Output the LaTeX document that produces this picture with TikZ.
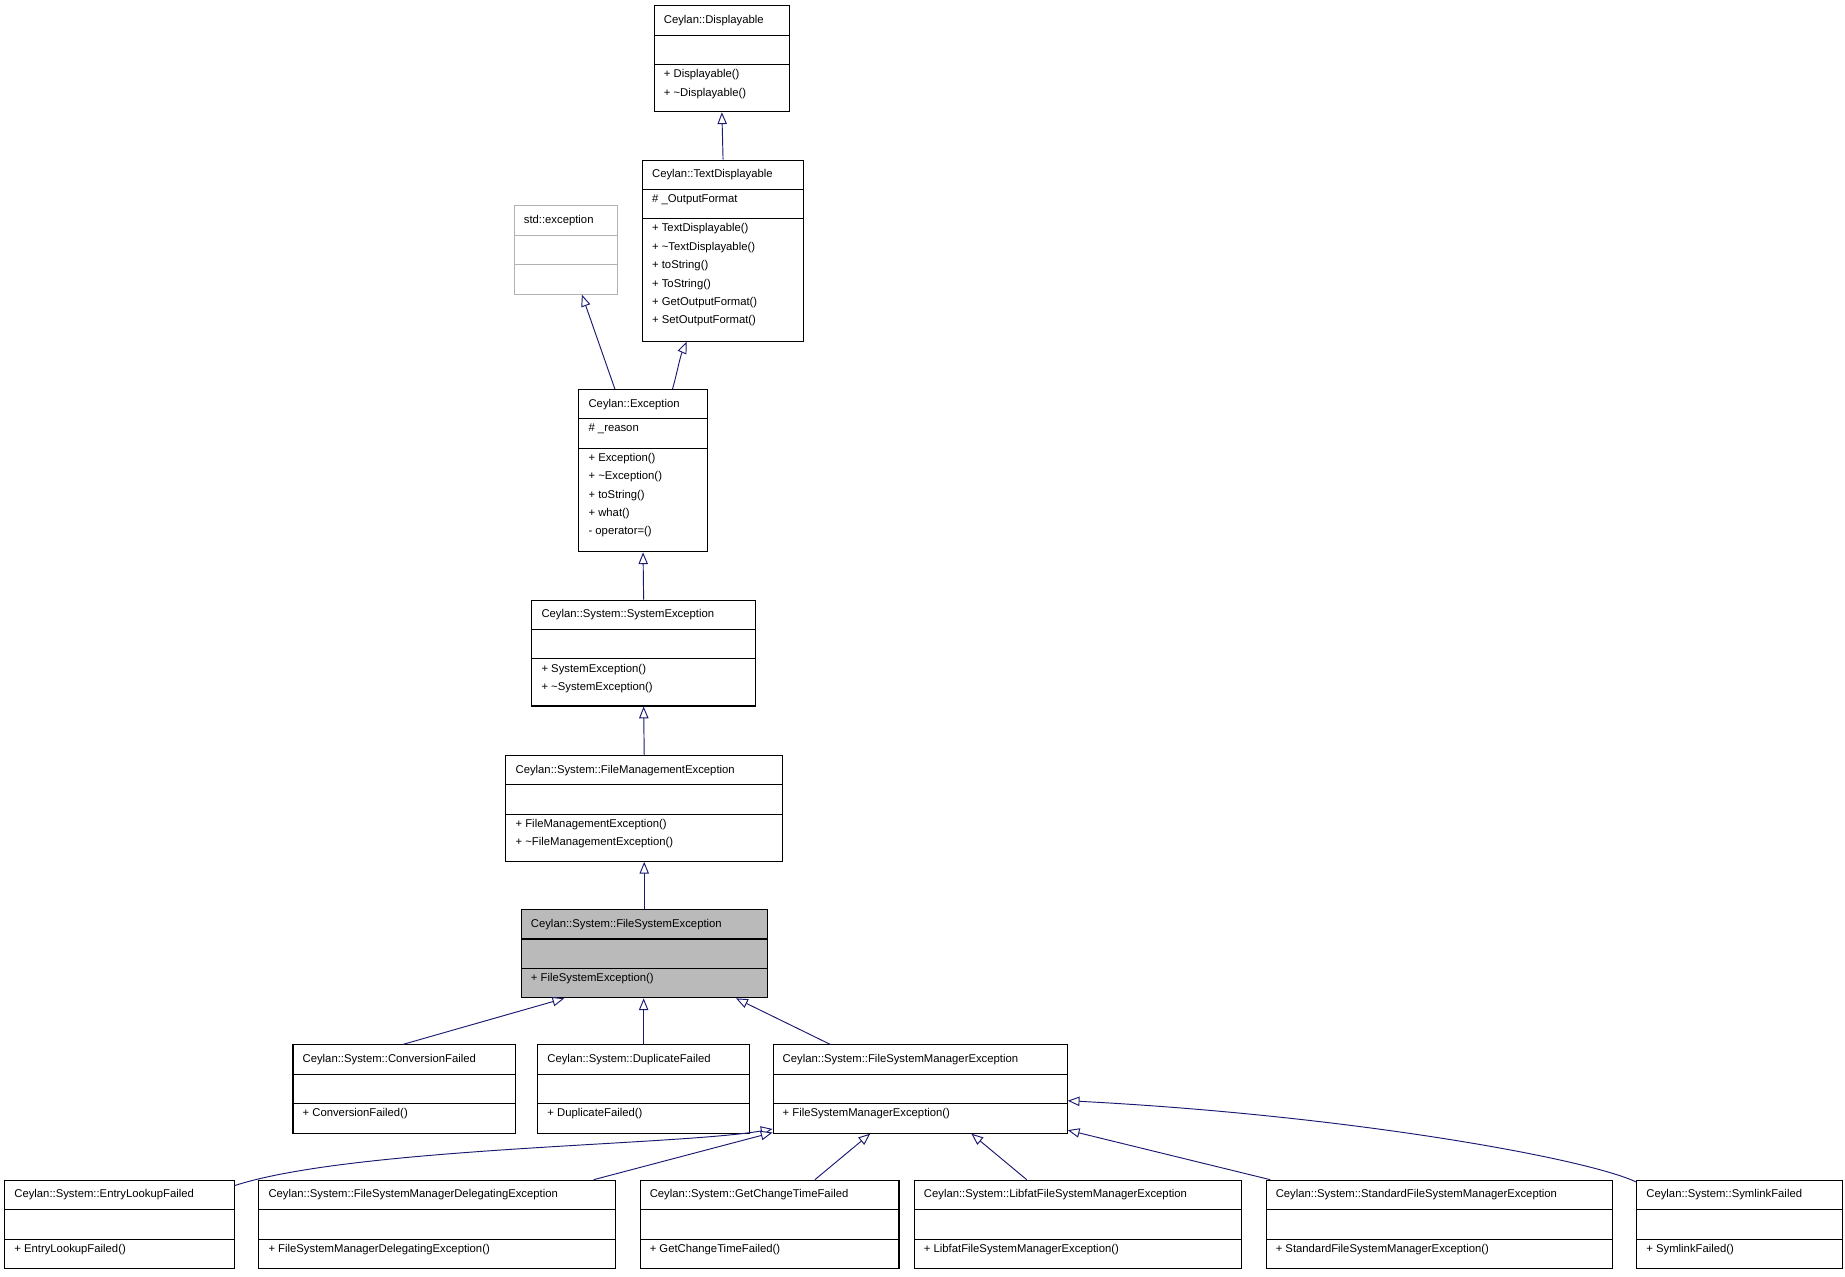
\documentclass[tikz,border=0pt]{standalone}
\usepackage{fontspec}
\setmainfont{Liberation Sans}
\usetikzlibrary{fit,calc,arrows.meta}
\newcommand\cls[9]{%
  \node[fit={(#2,#3)(#4,#5)},inner sep=0pt,draw,line width=0.9pt,#9] (#1) {};
  \draw[line width=0.9pt,#9,fill=none] (#2,#3+25) -- (#4,#3+25) (#2,#3+50) -- (#4,#3+50);
  \node[txt,anchor=west] (#1-t) at (#2+8,#3+12.5) {#6};
  \node[txt,anchor=north west] (#1-a) at (#2+8,#3+29) {#7};
  \node[txt,anchor=north west] (#1-m) at (#2+8,#3+54) {#8};
}
\begin{document}
\begin{tikzpicture}[x=1pt,y=-1pt,
  txt/.style={inner sep=0pt,align=left,font=\fontsize{9.6}{15.6}\selectfont},
  edge/.style={draw={rgb,255:red,25;green,25;blue,112},line width=0.8pt,{Triangle[open,length=10pt,width=8pt,fill=white]}-},
  grey/.style={draw=black!30},
  sel/.style={fill=black!27}]
\useasboundingbox (0,0) rectangle (1568,1085);
\cls{disp}{556}{5}{671}{95}{Ceylan::Displayable}{}{+ Displayable()\\+ \char"7E Displayable()}{}
\cls{tdisp}{546}{136}{683}{290}{Ceylan::TextDisplayable}{\# \_OutputFormat}{+ TextDisplayable()\\+ \char"7E TextDisplayable()\\+ toString()\\+ ToString()\\+ GetOutputFormat()\\+ SetOutputFormat()}{}
\cls{stdex}{437}{175}{525}{250}{std::exception}{}{}{grey}
\cls{exc}{492}{331}{601}{469}{Ceylan::Exception}{\# \_reason}{+ Exception()\\+ \char"7E Exception()\\+ toString()\\+ what()\\- operator=()}{}
\cls{sys}{452}{510}{642}{600}{Ceylan::System::SystemException}{}{+ SystemException()\\+ \char"7E SystemException()}{}
\cls{fm}{430}{642}{665}{732}{Ceylan::System::FileManagementException}{}{+ FileManagementException()\\+ \char"7E FileManagementException()}{}
\cls{fs}{443}{773}{652}{848}{Ceylan::System::FileSystemException}{}{+ FileSystemException()}{sel}
\cls{conv}{249}{888}{438}{963}{Ceylan::System::ConversionFailed}{}{+ ConversionFailed()}{}
\cls{dup}{457}{888}{637}{963}{Ceylan::System::DuplicateFailed}{}{+ DuplicateFailed()}{}
\cls{fsm}{657}{888}{907}{963}{Ceylan::System::FileSystemManagerException}{}{+ FileSystemManagerException()}{}
\cls{entry}{4}{1003}{199}{1078}{Ceylan::System::EntryLookupFailed}{}{+ EntryLookupFailed()}{}
\cls{deleg}{220}{1003}{523}{1078}{Ceylan::System::FileSystemManagerDelegatingException}{}{+ FileSystemManagerDelegatingException()}{}
\cls{gct}{544}{1003}{764}{1078}{Ceylan::System::GetChangeTimeFailed}{}{+ GetChangeTimeFailed()}{}
\cls{lib}{777}{1003}{1055}{1078}{Ceylan::System::LibfatFileSystemManagerException}{}{+ LibfatFileSystemManagerException()}{}
\cls{std}{1076}{1003}{1370}{1078}{Ceylan::System::StandardFileSystemManagerException}{}{+ StandardFileSystemManagerException()}{}
\cls{sym}{1391}{1003}{1566}{1078}{Ceylan::System::SymlinkFailed}{}{+ SymlinkFailed()}{}
\path[edge] (disp.south) -- (tdisp.north);
\path[edge] ($(tdisp.south west)+(38,0)$) .. controls ($(tdisp.south west)+(32,14)$) and ($(exc.north west)+(84,-14)$) .. ($(exc.north west)+(80,0)$);
\path[edge] ($(stdex.south west)+(58,0)$) -- ($(exc.north west)+(31,0)$);
\path[edge] (exc.south) -- (sys.north);
\path[edge] (sys.south) -- (fm.north);
\path[edge] (fm.south) -- (fs.north);
\path[edge] ($(fs.south west)+(37,0)$) -- ($(conv.north west)+(94,0)$);
\path[edge] (fs.south -| dup.north) -- (dup.north);
\path[edge] ($(fs.south west)+(183,0)$) -- ($(fsm.north west)+(49,0)$);
\path[edge] ($(fsm.south west)+(0,-4)$) .. controls ($(fsm.south west)+(-80,10)$) and (300,975) .. ($(entry.north east)+(0,5)$);
\path[edge] ($(fsm.south west)+(0,-1)$) -- ($(deleg.north west)+(285,0)$);
\path[edge] ($(fsm.south west)+(83,0)$) -- ($(gct.north west)+(149,0)$);
\path[edge] ($(fsm.south west)+(169,0)$) -- ($(lib.north west)+(96,0)$);
\path[edge] ($(fsm.south east)+(0,-3)$) -- ($(std.north west)+(4,0)$);
\path[edge] ($(fsm.south east)+(0,-28)$) .. controls (1150,948) and (1350,985) .. ($(sym.north west)+(0,2)$);
\end{tikzpicture}
\end{document}
